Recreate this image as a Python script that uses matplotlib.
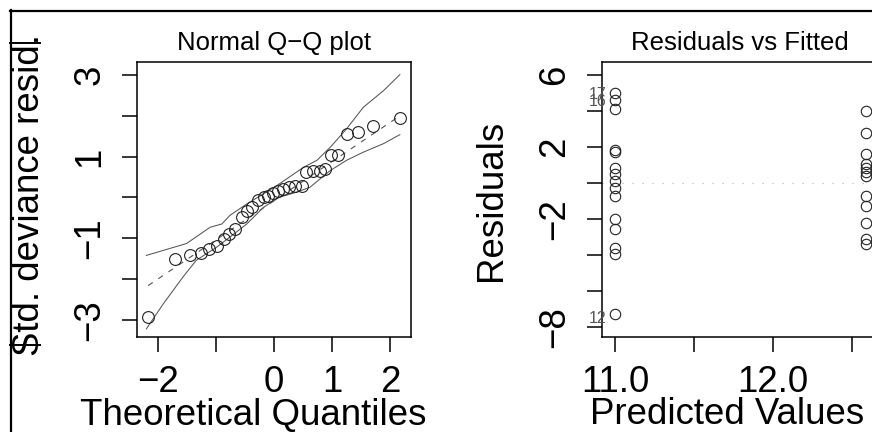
import matplotlib.pyplot as plt
from matplotlib.lines import Line2D

plt.rcParams['font.family'] = ['Liberation Sans', 'DejaVu Sans']

# Normal Q-Q plot: theoretical quantiles vs std. deviance residuals
qq_theo = [-2.17, -1.71, -1.45, -1.26, -1.12, -0.98, -0.87, -0.77, -0.67, -0.56,
           -0.47, -0.38, -0.27, -0.18, -0.10, -0.01, 0.07, 0.16, 0.25, 0.36,
           0.48, 0.56, 0.68, 0.79, 0.88, 0.99, 1.10, 1.26, 1.45, 1.71, 2.17]
qq_resid = [-2.93, -1.52, -1.40, -1.36, -1.26, -1.19, -1.01, -0.89, -0.77, -0.48,
            -0.32, -0.24, -0.07, 0.01, 0.04, 0.11, 0.15, 0.21, 0.25, 0.27,
            0.29, 0.62, 0.66, 0.66, 0.70, 1.05, 1.05, 1.56, 1.60, 1.76, 1.95]
# reference line end points
ref_x = [-2.17, 2.17]
ref_y = [-2.16, 2.00]
# simulation envelope
env_up_x = [-2.2, -1.51, -1.10, -0.90, -0.76, -0.47, -0.18, 0.10, 0.51, 0.74, 0.97, 1.25, 1.54, 1.89, 2.17]
env_up_y = [-1.42, -1.13, -0.73, -0.65, -0.44, -0.16, 0.09, 0.34, 0.74, 0.91, 1.23, 1.68, 2.21, 2.62, 3.01]
env_lo_x = [-2.2, -1.91, -1.57, -1.34, -0.99, -0.76, -0.47, -0.18, 0.10, 0.39, 0.62, 0.97, 1.25, 1.54, 1.89, 2.17]
env_lo_y = [-3.22, -2.61, -1.95, -1.54, -1.22, -0.97, -0.65, -0.24, 0.01, 0.13, 0.25, 0.66, 0.91, 1.11, 1.32, 1.54]

# Residuals vs Fitted
fit_a = 11.0
res_a = [5.0, 4.61, 4.11, 1.85, 1.70, 0.83, 0.50, 0.11, -0.28, -0.72,
         -2.0, -2.56, -3.61, -3.94, -7.28]
fit_b = 12.59
res_b = [4.0, 2.78, 1.61, 1.06, 0.83, 0.61, 0.39, -0.72, -1.28, -2.22, -3.11, -3.39]
labels = {'17': (fit_a, 5.0), '16': (fit_a, 4.61), '12': (fit_a, -7.28)}

W, H = 872, 432
fig = plt.figure(figsize=(W / 100, H / 100), dpi=100, facecolor='w')
ax1 = fig.add_axes([137 / W, 95 / H, 274 / W, 275 / H])
ax2 = fig.add_axes([602 / W, 95 / H, 274 / W, 275 / H])

big = 26.4
mid = 18.5

for ax in (ax1, ax2):
    for s in ax.spines.values():
        s.set_linewidth(1.1)
    ax.tick_params(axis='both', length=10.5, width=1.1, labelsize=big)
    ax.tick_params(axis='x', pad=10)
    ax.tick_params(axis='y', labelrotation=90, pad=11)

# left panel
ax1.plot(env_up_x, env_up_y, color='#555555', lw=0.75)
ax1.plot(env_lo_x, env_lo_y, color='#555555', lw=0.75)
ax1.plot(ref_x, ref_y, color='#555555', lw=0.8, dashes=(5, 6))
ax1.plot(qq_theo, qq_resid, 'o', mfc='none', mec='#222222', ms=8.5, mew=0.8)
ax1.set_xlim(-2.362, 2.362)
ax1.set_ylim(-3.42, 3.32)
ax1.set_xticks([-2, -1, 0, 1, 2])
ax1.set_xticklabels(['\u22122', '', '0', '1', '2'])
ax1.set_yticks([-3, -2, -1, 0, 1, 2, 3])
ax1.set_yticklabels(['\u22123', '', '\u22121', '', '1', '', '3'], va='center')

# right panel
ax2.axhline(0, color='#bbbbbb', lw=0.9, ls=(0, (1, 7)), zorder=1)
ax2.plot([fit_a] * len(res_a), res_a, 'o', mfc='none', mec='#222222', ms=7.5, mew=0.8)
ax2.plot([fit_b] * len(res_b), res_b, 'o', mfc='none', mec='#222222', ms=7.5, mew=0.8)
for k, (x, y) in labels.items():
    ax2.annotate(k, (x, y), xytext=(-6, -1 if k != '12' else -3), textcoords='offset points',
                 ha='right', va='center', fontsize=11.5, color='#555555')
ax2.set_xlim(10.918, 12.652)
ax2.set_ylim(-8.56, 6.72)
ax2.set_xticks([11.0, 11.5, 12.0, 12.5])
ax2.set_xticklabels(['11.0', '', '12.0', ''])
ax2.set_yticks([-8, -6, -4, -2, 0, 2, 4, 6])
ax2.set_yticklabels(['\u22128', '', '', '\u22122', '', '2', '', '6'], va='center')

# titles and axis labels
fig.text(273.5 / W, 1 - 50 / H, 'Normal Q\u2212Q plot', ha='center', va='baseline', fontsize=mid)
fig.text(739.5 / W, 1 - 50 / H, 'Residuals vs Fitted', ha='center', va='baseline', fontsize=mid)
fig.text(253.5 / W, 1 - 425 / H, 'Theoretical Quantiles', ha='center', va='baseline', fontsize=big)
fig.text(727 / W, 1 - 424 / H, 'Predicted Values', ha='center', va='baseline', fontsize=big)
fig.text(12 / W, 1 - 195 / H, 'Std. deviance resid.', rotation=90, ha='left', va='center', fontsize=big)
fig.text(474 / W, 1 - 200 / H, 'Residuals', rotation=90, ha='left', va='center', fontsize=big)

# outer frame of the screenshot
fig.add_artist(Line2D([10 / W, 1], [1 - 10.5 / H] * 2, transform=fig.transFigure, color='k', lw=1.6))
fig.add_artist(Line2D([10.5 / W] * 2, [0, 1 - 10 / H], transform=fig.transFigure, color='k', lw=1.6))
fig.add_artist(Line2D([10 / W, 40 / W], [1 - 43 / H] * 2, transform=fig.transFigure, color='k', lw=1.4))
fig.add_artist(Line2D([10 / W, 40 / W], [1 - 345 / H] * 2, transform=fig.transFigure, color='k', lw=1.4))

fig.savefig('out.png', dpi=100)
